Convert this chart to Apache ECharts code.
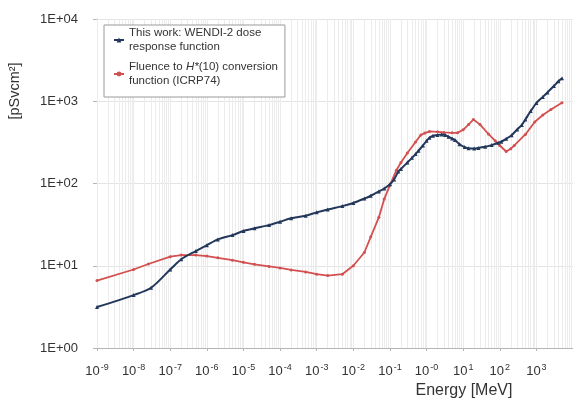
<!DOCTYPE html>
<html>
<head>
<meta charset="utf-8">
<script src="https://cdn.jsdelivr.net/npm/echarts@6/dist/echarts.min.js"></script>
<style>
  html, body { margin: 0; padding: 0; background: #fff; }
  #chart { width: 573px; height: 398px; }
</style>
</head>
<body>
<div id="chart"></div>
<script>
// WENDI-2 dose response function [pSv cm^2] versus neutron energy [MeV]
const wendiEnergy = [1e-9, 1e-8, 3e-8, 1e-7, 2e-7, 5e-7, 1e-6, 2e-6, 5e-6, 1e-5, 2e-5, 5e-5,
  1e-4, 2e-4, 5e-4, 1e-3, 2e-3, 5e-3, 1e-2, 2e-2, 3e-2, 5e-2, 7e-2, 0.1, 0.13, 0.17, 0.2,
  0.3, 0.4, 0.5, 0.6, 0.8, 1, 1.2, 1.5, 2, 2.6, 3.2, 4, 5, 6, 8, 11, 14, 20, 26, 40, 60,
  90, 110, 150, 210, 300, 400, 500, 700, 1000, 1500, 2000, 3000, 4000, 5000];
const wendiDose = [3.15, 4.4, 5.4, 9.0, 12.0, 15.1, 17.8, 20.9, 23.6, 26.4, 28.5, 31.2,
  34.3, 37.7, 40.5, 44.6, 48.4, 53.1, 58, 65.5, 71, 80, 87, 98, 112, 140, 150,
  180, 205, 228, 250, 290, 330, 360, 380, 390, 395, 390, 370, 352, 337, 300, 277, 268, 266, 271, 279, 293,
  312, 322, 350, 387, 455, 515, 600, 760, 950, 1130, 1280, 1530, 1750, 1900];

// Fluence to H*(10) conversion coefficients (ICRP74) [pSv cm^2]
const icrpEnergy = [1e-9, 1e-8, 2.53e-8, 1e-7, 2e-7, 5e-7, 1e-6, 2e-6, 5e-6, 1e-5, 2e-5, 5e-5,
  1e-4, 2e-4, 5e-4, 1e-3, 2e-3, 5e-3, 1e-2, 2e-2, 3e-2, 5e-2, 7e-2, 0.1, 0.15, 0.2, 0.3,
  0.5, 0.7, 0.9, 1.2, 2, 3, 5, 7, 10, 14, 19, 29, 49, 75, 100, 150, 200, 250, 500, 900,
  1500, 2500, 5000];
const icrpDose = [6.6, 9.0, 10.5, 12.9, 13.5, 13.5, 13.1, 12.5, 11.7, 11.0, 10.4, 9.8,
  9.4, 8.9, 8.4, 7.9, 7.6, 7.9, 10.0, 14.5, 22.5, 39, 65, 95, 145, 180, 235,
  320, 390, 410, 430, 425, 418, 413, 413, 450, 520, 600, 520, 400, 330, 290, 245, 265, 290, 395, 560,
  680, 795, 957];

const seriesNames = ['This work: WENDI-2 dose\nresponse function',
                     'Fluence to H*(10) conversion\nfunction (ICRP74)'];
const yTickLabels = ['1E+00', '1E+01', '1E+02', '1E+03', '1E+04'];
const decades = [-9, -8, -7, -6, -5, -4, -3, -2, -1, 0, 1, 2, 3];

const pair = (xs, ys) => xs.map((x, i) => [x, ys[i]]);

// light vertical grid lines at 1..9 x 10^n, spanning the full value range
const gridLines = [];
decades.forEach(d => {
  for (let m = 1; m <= 9; m++) {
    const x = m * Math.pow(10, d);
    gridLines.push({ coords: [[x, 1], [x, 1e4]] });
  }
});

const FONT = 'Liberation Sans, Arial, sans-serif';

const chart = echarts.init(document.getElementById('chart'), null, { renderer: 'canvas' });
chart.setOption({
  animation: false,
  textStyle: { fontFamily: FONT },
  grid: { left: 97, right: -2, top: 19, bottom: 50 },
  legend: {
    orient: 'vertical',
    left: 104, top: 25,
    padding: [1, 7, 9, 9],
    itemGap: 6,
    itemWidth: 10, itemHeight: 6,
    backgroundColor: '#fff',
    borderColor: '#9a9a9a', borderWidth: 1,
    textStyle: {
      fontSize: 11.5, color: '#333', lineHeight: 14,
      rich: {
        t: { fontSize: 11.5, color: '#333', lineHeight: 14 },
        i: { fontSize: 11.5, color: '#333', fontStyle: 'italic', lineHeight: 14 }
      }
    },
    formatter: name => name.indexOf('ICRP') >= 0
      ? '{t|Fluence to }{i|H*}{t|(10) conversion}\n{t|function (ICRP74)}'
      : name,
    data: seriesNames
  },
  xAxis: {
    type: 'log',
    logBase: 10,
    min: 1e-9, max: 1e4,
    interval: 1,
    axisLine: { lineStyle: { color: '#b5b5b5' } },
    axisTick: { show: true, length: 3, lineStyle: { color: '#b5b5b5' } },
    splitLine: { show: false },
    axisLabel: {
      margin: 15,
      color: '#333',
      fontSize: 13,
      showMaxLabel: false,
      formatter: v => {
        const e = Math.round(Math.log10(v));
        if (e > 3) return '';
        const s = e === 0 ? '-0' : String(e);
        return '{b|10}{s|' + s + '}';
      },
      rich: {
        b: { fontSize: 13, color: '#333' },
        s: { fontSize: 9, color: '#333', padding: [0, 0, 8, 1] }
      }
    }
  },
  yAxis: {
    type: 'log',
    logBase: 10,
    min: 1, max: 1e4,
    interval: 1,
    axisLine: { show: true, lineStyle: { color: '#c8c8c8' } },
    axisTick: { show: true, length: 4, lineStyle: { color: '#b5b5b5' } },
    splitLine: { show: true, lineStyle: { color: '#e4e4e4' } },
    axisLabel: {
      margin: 19,
      color: '#333',
      fontSize: 13,
      formatter: v => yTickLabels[Math.round(Math.log10(v))]
    }
  },
  graphic: [
    {
      type: 'text', x: 15, y: 91, rotation: Math.PI / 2,
      style: { text: '[pSvcm\u00B2]', fontSize: 14.5, fill: '#333', fontFamily: FONT,
        textAlign: 'center', textVerticalAlign: 'middle' }
    },
    {
      type: 'text', x: 464, y: 391,
      style: { text: 'Energy [MeV]', fontSize: 16, fill: '#333', fontFamily: FONT,
        textAlign: 'center', textVerticalAlign: 'middle' }
    }
  ],
  series: [
    {
      name: 'grid', type: 'lines', coordinateSystem: 'cartesian2d',
      z: 1, silent: true, polyline: false,
      lineStyle: { color: '#ececec', width: 1, opacity: 1 },
      data: gridLines
    },
    {
      name: seriesNames[0], type: 'line', z: 4,
      data: pair(wendiEnergy, wendiDose),
      smooth: 0.3,
      symbol: 'triangle', symbolSize: 4, showSymbol: true,
      color: '#22375a',
      lineStyle: { width: 2, color: '#22375a' },
      itemStyle: { color: '#22375a' }
    },
    {
      name: seriesNames[1], type: 'line', z: 3,
      data: pair(icrpEnergy, icrpDose),
      symbol: 'circle', symbolSize: 3, showSymbol: true,
      color: '#d2504f',
      lineStyle: { width: 1.8, color: '#d2504f' },
      itemStyle: { color: '#d2504f' }
    }
  ]
});
</script>
</body>
</html>
